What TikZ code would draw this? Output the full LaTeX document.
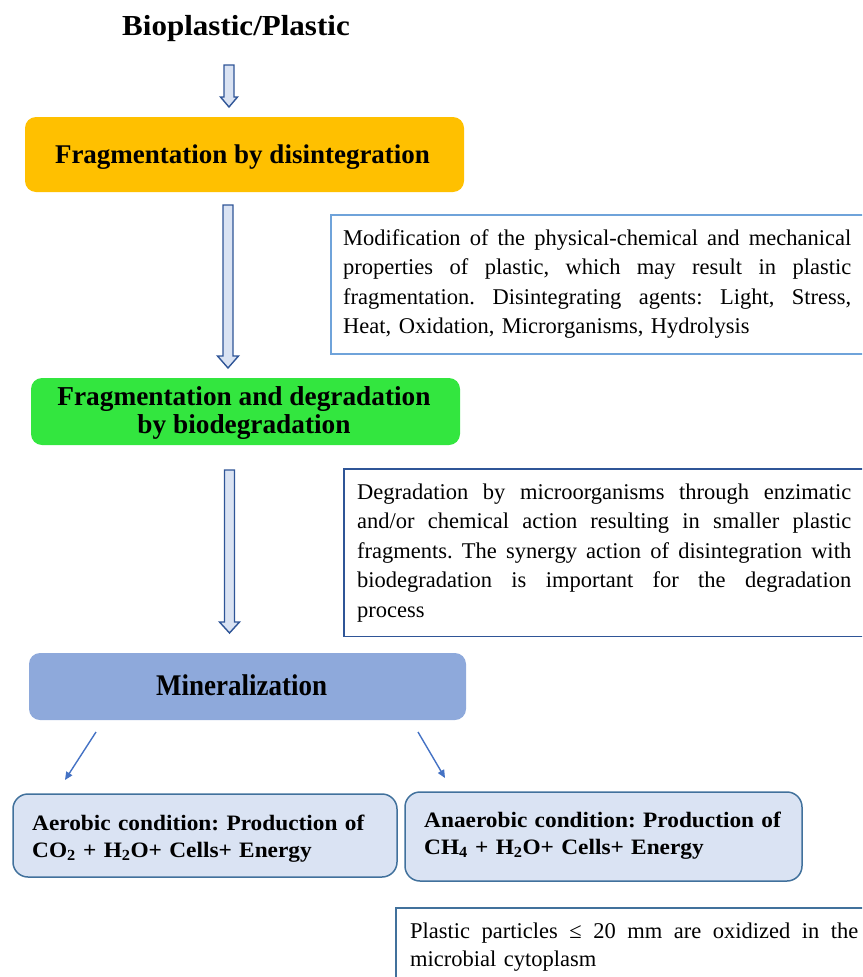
\documentclass[tikz,border=0pt]{standalone}
\usepackage{fontspec}
\setmainfont{Liberation Serif}
\newfontfamily\bodyfont{Liberation Serif}
\newfontfamily\titlefont[FakeStretch=1.07]{Liberation Serif}
\newfontfamily\minfont[FakeStretch=0.9]{Liberation Serif}
\newfontfamily\condfont[FakeStretch=1.06]{Liberation Serif}
\usetikzlibrary{arrows.meta,calc}
\definecolor{orangebox}{HTML}{FFC000}
\definecolor{greenbox}{HTML}{33E63F}
\definecolor{mineralbox}{HTML}{8EA9DB}
\definecolor{lightfill}{HTML}{DAE3F3}
\definecolor{darkblue}{HTML}{2F5597}
\definecolor{midblue}{HTML}{41719C}
\definecolor{lightblue}{HTML}{6FA3DA}
\definecolor{arrowblue}{HTML}{4472C4}
\newcommand{\hollowarrow}[4]{%
  \draw[blockarrow] let \p1=(#1), \p2=(#2) in
    (\x1-5pt,\y1) -- (\x1+5pt,\y1) -- (\x1+5pt,\y2+#4) -- (\x1+#3,\y2+#4)
    -- (\x1,\y2) -- (\x1-#3,\y2+#4) -- (\x1-5pt,\y2+#4) -- cycle;}
\newcommand{\jline}[2]{\makebox[#1][s]{\spaceskip=0.25em plus 1fil\xspaceskip=\spaceskip\relax #2}}
\begin{document}
\begin{tikzpicture}[x=1pt,y=-1pt,
  stagebox/.style={rounded corners=11pt, inner sep=0pt},
  stagetext/.style={inner sep=0pt, font=\bfseries\fontsize{27}{28}\selectfont},
  notebox/.style={draw, line width=1.8pt, fill=white, inner sep=0pt, anchor=north west},
  notetext/.style={inner sep=0pt, anchor=north west, font=\bodyfont\fontsize{22.5}{29.5}\selectfont\frenchspacing},
  condbox/.style={draw=midblue, line width=1.5pt, fill=lightfill, rounded corners=15pt, inner sep=0pt},
  condtext/.style={inner sep=0pt, anchor=north west, text width=400pt, font=\condfont\bfseries\fontsize{22}{27}\selectfont\frenchspacing},
  blockarrow/.style={draw=darkblue, fill=lightfill, line width=1.4pt, line join=miter},
  thinarrow/.style={draw=arrowblue, line width=1.4pt, -{Triangle[length=8pt,width=7pt]}}]
\useasboundingbox (0,0) rectangle (862,977);
\begin{scope}
\clip (0,0) rectangle (862,977);

% title
\node[inner sep=0pt, anchor=base, font=\titlefont\bfseries\fontsize{29}{34}\selectfont] (title) at (236,35) {Bioplastic/Plastic};

% stage boxes
\node[stagebox, fill=orangebox, minimum width=439pt, minimum height=75pt] (frag) at (244.5,154.5) {};
\node[stagetext, anchor=base] (fragtxt) at (242.5,163) {Fragmentation by disintegration};

\node[stagebox, fill=greenbox, minimum width=429pt, minimum height=67pt] (bio) at (245.5,411.5) {};
\node[stagetext, anchor=north, align=center, font=\bfseries\fontsize{27.3}{28}\selectfont] (biotxt) at (244,385.4) {\strut Fragmentation and degradation\\by biodegradation};

\node[stagebox, fill=mineralbox, minimum width=437pt, minimum height=67pt] (mineral) at (247.5,686.5) {};
\node[inner sep=0pt, anchor=base, font=\minfont\bfseries\fontsize{30}{32}\selectfont] (mineraltxt) at (241.7,695) {Mineralization};

% hollow arrows
\coordinate (a0s) at (229,65);
\coordinate (a0e) at (229,107);
\coordinate (a1s) at (228,205);
\coordinate (a1e) at (228,368);
\coordinate (a2s) at (229.5,470);
\coordinate (a2e) at (229.5,633);
\hollowarrow{a0s}{a0e}{8.5pt}{10pt}
\hollowarrow{a1s}{a1e}{10.5pt}{12pt}
\hollowarrow{a2s}{a2e}{10pt}{11pt}

% note boxes
\node[notebox, draw=lightblue, minimum width=560pt, minimum height=139pt] (note1) at (330,214) {};
\node[notetext, text width=508pt] (note1txt) at (343,224.35) {\noindent\strut\jline{508pt}{Modification of the physical-chemical and mechanical}\\
\jline{508pt}{properties of plastic, which may result in plastic}\\
\jline{508pt}{fragmentation. Disintegrating agents: Light, Stress,}\\
Heat, Oxidation, Microrganisms, Hydrolysis};

\node[notebox, draw=darkblue, minimum width=560pt, minimum height=167.5pt] (note2) at (343,468) {};
\node[notetext, text width=494pt] (note2txt) at (357,478.35) {\noindent\strut\jline{494pt}{Degradation by microorganisms through enzimatic}\\
\jline{494pt}{and/or chemical action resulting in smaller plastic}\\
\jline{494pt}{fragments. The synergy action of disintegration with}\\
\jline{494pt}{biodegradation is important for the degradation}\\
process};

\node[notebox, draw=midblue, minimum width=500pt, minimum height=100pt] (note3) at (395,907) {};
\node[notetext, text width=448pt, font=\bodyfont\fontsize{22.5}{28}\selectfont\frenchspacing] (note3txt) at (410,918.4) {\noindent\strut\jline{448pt}{Plastic particles ≤ 20 mm are oxidized in the}\\
microbial cytoplasm};

% condition boxes
\node[condbox, minimum width=384pt, minimum height=83pt] (aer) at (205,835.5) {};
\node[condtext] (aertxt) at (32,811.1) {\noindent\strut Aerobic condition: Production of\\
CO\textsubscript{2} + H\textsubscript{2}O+ Cells+ Energy};

\node[condbox, minimum width=397pt, minimum height=89pt] (anaer) at (603.5,836.5) {};
\node[condtext] (anaertxt) at (424,808.1) {\noindent\strut Anaerobic condition: Production of\\
CH\textsubscript{4} + H\textsubscript{2}O+ Cells+ Energy};

% thin arrows
\coordinate (l1) at (96,732);
\coordinate (l2) at (65,780);
\coordinate (r1) at (418,732);
\coordinate (r2) at (445,778);
\draw[thinarrow] (l1) -- (l2);
\draw[thinarrow] (r1) -- (r2);
\end{scope}
\end{tikzpicture}
\end{document}
